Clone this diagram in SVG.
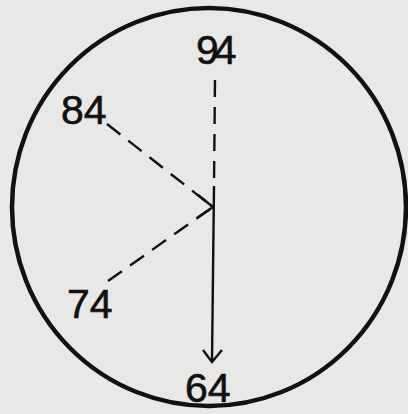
<svg xmlns="http://www.w3.org/2000/svg" width="408" height="414" viewBox="0 0 408 414">
  <style>
    .lbl { font-family: "Liberation Sans", Arial, sans-serif; font-size: 41px; fill: #111; stroke: #111; stroke-width: 0.6; }
    .ln { stroke: #111; stroke-width: 2.4; fill: none; stroke-linecap: butt; }
    .dash { stroke-dasharray: 17 10; }
  </style>
  <rect width="408" height="414" fill="#e8e8e6"/>
  <g id="circle">
    <ellipse cx="209" cy="207" rx="197" ry="199" fill="none" stroke="#111" stroke-width="4.5"/>
  </g>
  <g id="connectors">
    <line class="ln dash" x1="215" y1="80" x2="214" y2="186"/>
    <line class="ln" x1="214" y1="186" x2="212" y2="361"/>
    <polyline class="ln" points="203,350 212,362 222,350"/>
    <line class="ln dash" x1="107" y1="124" x2="213" y2="207"/>
    <line class="ln dash" x1="108" y1="281" x2="213" y2="207"/>
    <polyline class="ln" points="198,195 213,207 197,218"/>
  </g>
  <g id="n94"><text class="lbl" x="196" y="64" letter-spacing="-5">94</text></g>
  <g id="n84"><text class="lbl" x="61" y="124">84</text></g>
  <g id="n74"><text class="lbl" x="67" y="318">74</text></g>
  <g id="n64"><text class="lbl" x="185" y="402">64</text></g>
</svg>
